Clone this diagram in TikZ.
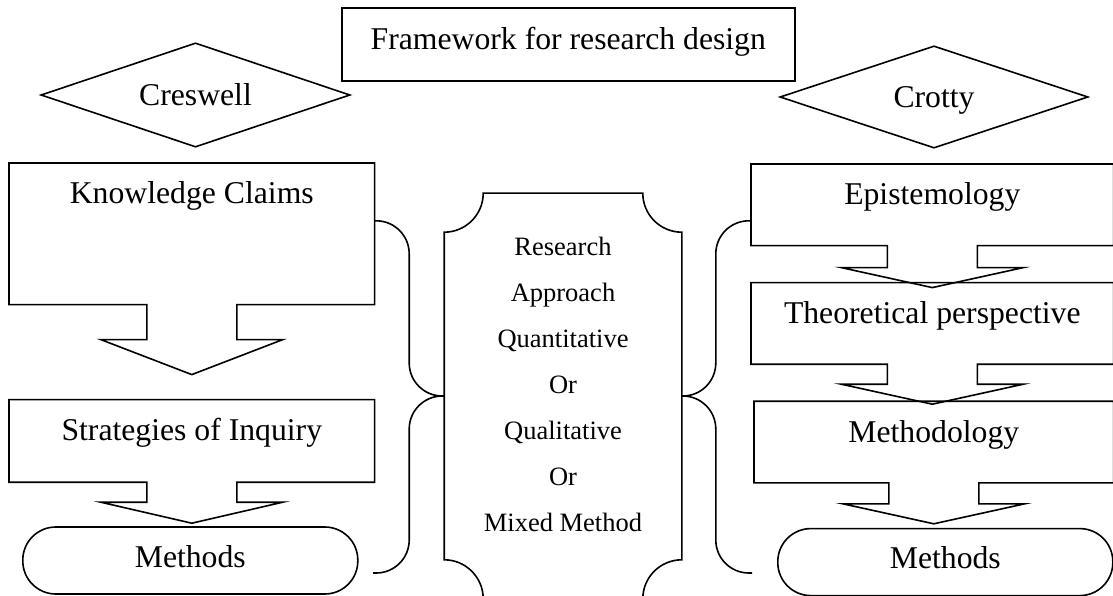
\documentclass[tikz,border=0pt]{standalone}
\usepackage{fontspec}
\setmainfont{Liberation Serif}
\usetikzlibrary{calc,positioning}

% box with a down arrow hanging below it: node, stem length, head length
\newcommand{\calloutdown}[3]{%
  \draw (#1.south east) -- (#1.north east) -- (#1.north west) -- (#1.south west)
    -- ($(#1.south)+(-45,0)$) -- ++(0,#2) -- ++(-46,0) -- ($(#1.south)+(0,#2+#3)$)
    -- ($(#1.south)+(91,#2)$) -- ++(-46,0) -- ($(#1.south)+(45,0)$) -- cycle;}
% diamond outline round a node
\newcommand{\rhombus}[1]{%
  \draw (#1.west) -- (#1.north) -- (#1.east) -- (#1.south) -- cycle;}

\begin{document}
\begin{tikzpicture}[x=1pt, y=-1pt, line width=1.6pt,
    font=\fontsize{31.7}{38}\selectfont,
    txtbox/.style={inner sep=0pt, text height=40pt, anchor=north west},
    framed/.style={txtbox, draw},
    terminal/.style={txtbox, draw, rounded corners=33pt},
    author/.style={inner sep=0pt, text height=21pt, text depth=0pt},
    plaque/.style={inner sep=0pt, minimum width=236pt, minimum height=404pt},
    brace/.style={rounded corners=33pt},
    midtext/.style={align=center, inner sep=0pt, font=\fontsize{26.5}{46}\selectfont}]
    \useasboundingbox (0,0) rectangle (1113,596);

    % title and the two authors
    \node[framed, minimum width=453pt, text height=42pt, text depth=31pt] (title) at (341,7) {Framework for research design};
    \node[author, minimum width=307pt, minimum height=102pt] (cres) at (195.5,95) {Creswell};
    \node[author, minimum width=306pt, minimum height=100pt] (crot) at (934,97) {Crotty};
    \rhombus{cres}
    \rhombus{crot}

    % Creswell column
    \node[txtbox, minimum width=364pt, text depth=100pt] (know) at (9,163) {Knowledge Claims};
    \node[txtbox, minimum width=364pt, text depth=41pt, below=95pt of know] (strat) {Strategies of Inquiry};
    \node[terminal, minimum width=335pt, text depth=27pt, below=44pt of strat, xshift=-1.5pt] (methL) {Methods};
    \calloutdown{know}{35}{35}
    \calloutdown{strat}{20}{21}

    % Crotty column
    \node[txtbox, minimum width=361pt, text depth=40pt] (epis) at (751,164) {Epistemology};
    \node[txtbox, minimum width=361pt, text depth=40pt, below=37pt of epis] (theo) {Theoretical perspective};
    \node[txtbox, minimum width=358pt, text depth=40pt, below=37pt of theo, xshift=1.5pt] (methy) {Methodology};
    \node[terminal, minimum width=335pt, text depth=27pt, below=45pt of methy, xshift=11.5pt] (methR) {Methods};
    \calloutdown{epis}{22}{20}
    \calloutdown{theo}{20}{20}
    \calloutdown{methy}{21}{20}

    % research approach in the middle
    \node[plaque] (appr) at (563,396) {};
    \draw ([xshift=39pt]appr.north west) -- ([xshift=-39pt]appr.north east)
      arc[start angle=180, end angle=270, radius=39pt]
      -- ([yshift=39pt]appr.south east)
      arc[start angle=90, end angle=180, radius=39pt]
      -- ([xshift=39pt]appr.south west)
      arc[start angle=0, end angle=90, radius=39pt]
      -- ([yshift=-39pt]appr.north west)
      arc[start angle=270, end angle=360, radius=39pt] -- cycle;
    \node[midtext] (apprtxt) at ([yshift=12pt]appr.center)
      {Research\\Approach\\Quantitative\\Or\\Qualitative\\Or\\Mixed Method};

    % braces
    \coordinate (lowL) at (373,573);
    \coordinate (lowR) at (752,573);
    \draw[brace] ([yshift=13pt]know.east) -| ([xshift=-35pt]appr.west) -- (appr.west);
    \draw[brace] (appr.west) -- ([xshift=-35pt]appr.west) |- (lowL);
    \draw[brace] ([yshift=-16pt]epis.west) -| ([xshift=34pt]appr.east) -- (appr.east);
    \draw[brace] (appr.east) -- ([xshift=34pt]appr.east) |- (lowR);
\end{tikzpicture}
\end{document}
